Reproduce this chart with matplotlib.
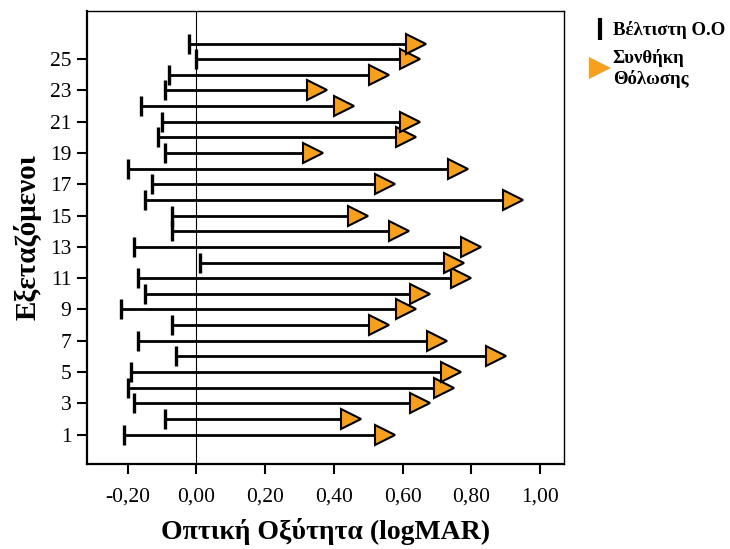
import matplotlib
matplotlib.use('Agg')
import matplotlib.pyplot as plt
from matplotlib.lines import Line2D
import numpy as np

plt.rcParams['font.family'] = ['Liberation Serif', 'DejaVu Serif']

# subjects 1..26, best corrected VA and VA under the blur condition (logMAR)
subjects = np.arange(1, 27)
best_va = [-0.21, -0.09, -0.18, -0.20, -0.19, -0.06, -0.17, -0.07, -0.22, -0.15,
           -0.17, 0.01, -0.18, -0.07, -0.07, -0.15, -0.13, -0.20, -0.09, -0.11,
           -0.10, -0.16, -0.09, -0.08, 0.00, -0.02]
blur_va = [0.55, 0.45, 0.65, 0.72, 0.74, 0.87, 0.70, 0.53, 0.61, 0.65,
           0.77, 0.75, 0.80, 0.59, 0.47, 0.92, 0.55, 0.76, 0.34, 0.61,
           0.62, 0.43, 0.35, 0.53, 0.62, 0.64]
y_ticks = list(range(1, 26, 2))
x_ticks = [-0.2, 0.0, 0.2, 0.4, 0.6, 0.8, 1.0]

fig = plt.figure(figsize=(7.3, 5.49), dpi=100)
ax = fig.add_axes([0.1188, 0.1543, 0.6538, 0.8262])

ax.axvline(0, color='black', lw=0.8, zorder=1)
ax.hlines(subjects, best_va, blur_va, color='black', lw=2.0, zorder=2)
ax.plot(best_va, subjects, ls='none', marker='|', ms=14.5, mew=2.4,
        color='black', zorder=3)
ax.plot(blur_va, subjects, ls='none', marker='>', ms=14.5, mew=1.5,
        mfc='#f7a01e', mec='black', zorder=4)

ax.set_xlim(-0.3186, 1.069)
ax.set_ylim(-0.9, 28.1)
ax.set_xticks(x_ticks)
ax.set_xticklabels([('%.2f' % v).replace('.', ',') for v in x_ticks])
ax.set_yticks(y_ticks)
ax.tick_params(axis='both', direction='out', length=7, width=1.5,
               labelsize=15.5, pad=4)
ax.tick_params(axis='x', pad=10)

for side in ['left', 'bottom']:
    ax.spines[side].set_linewidth(1.6)
for side in ['top', 'right']:
    ax.spines[side].set_linewidth(1.0)

ax.set_xlabel('Οπτική Οξύτητα (logMAR)', fontsize=20, fontweight='bold',
              labelpad=8)
ax.set_ylabel('Εξεταζόμενοι', fontsize=21, fontweight='bold', labelpad=6)

handles = [
    Line2D([], [], ls='none', marker='|', ms=16, mew=3, color='black'),
    Line2D([], [], ls='none', marker='>', ms=16, mew=0,
           mfc='#f7a01e', mec='#f7a01e'),
]
leg = fig.legend(handles, ['Βέλτιστη Ο.Ο', 'Συνθήκη\nΘόλωσης'],
                 loc='upper left', bbox_to_anchor=(0.793, 0.985),
                 frameon=False, handlelength=0.8, handletextpad=0.3,
                 borderaxespad=0.3, labelspacing=0.5,
                 prop={'weight': 'bold', 'size': 13.5})

fig.savefig('out.png', dpi=100)
